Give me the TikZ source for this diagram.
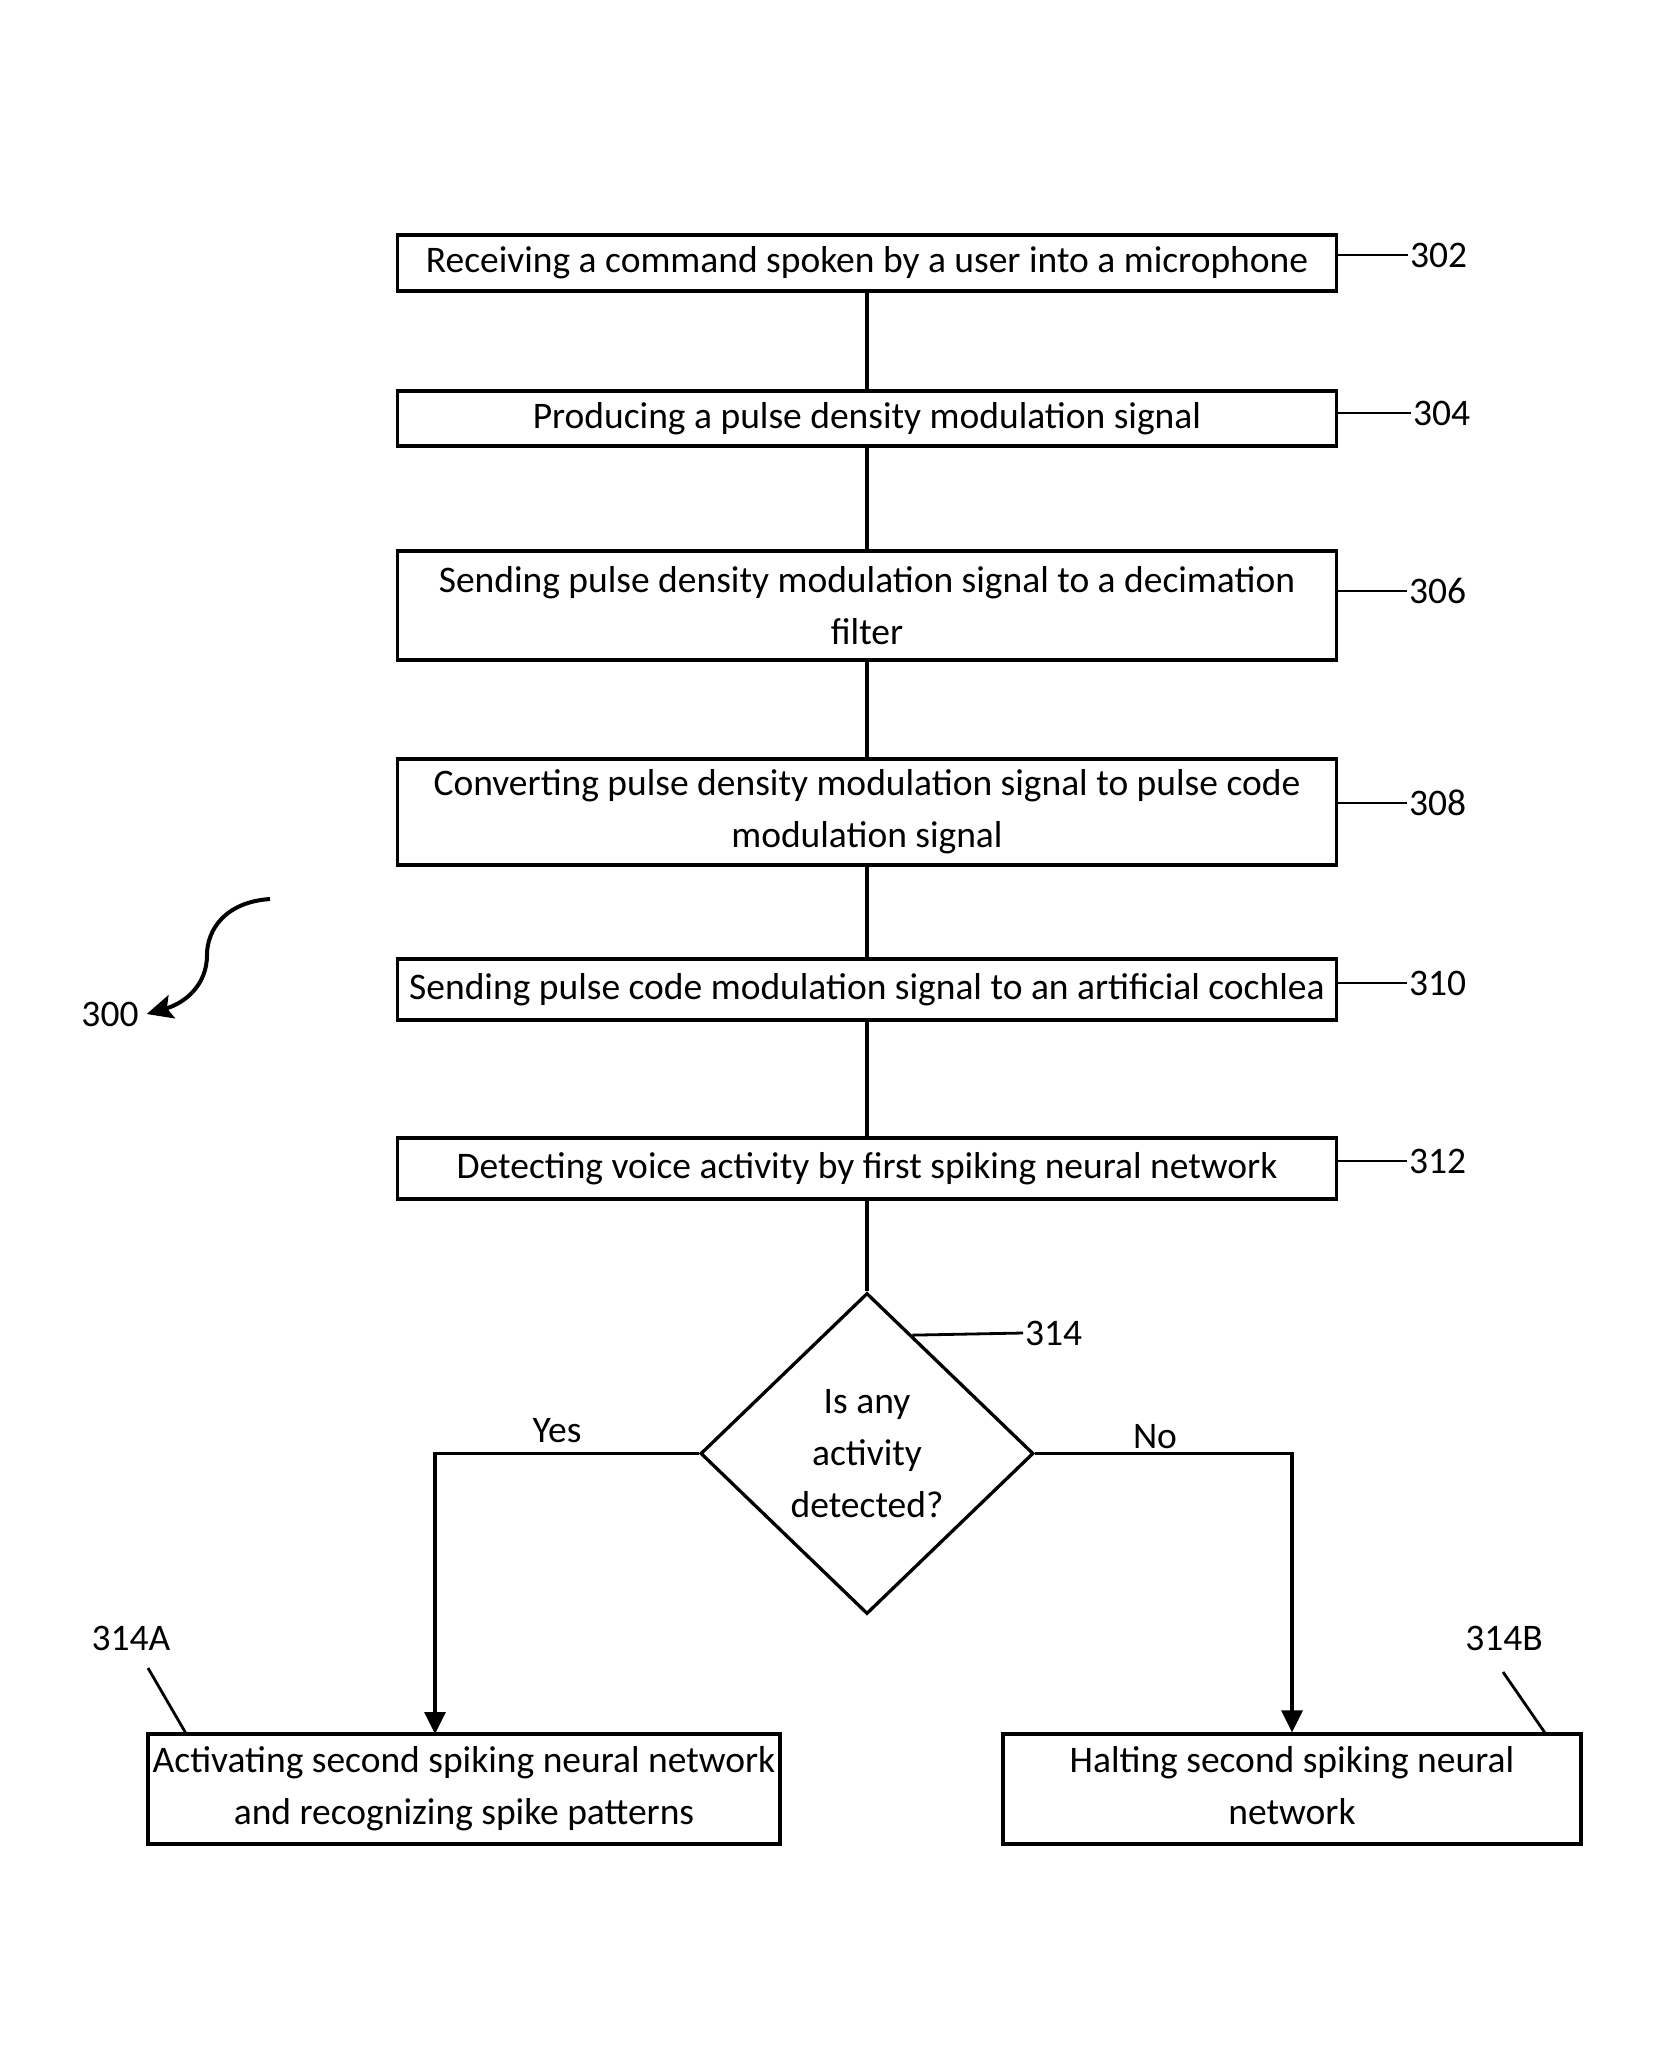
\documentclass[tikz,border=0pt]{standalone}
\usepackage{fontspec}
\setmainfont{Carlito}
\usetikzlibrary{arrows.meta,shapes.geometric,calc}
\newcommand{\flowfont}{\fontsize{37.5}{52}\selectfont}
\tikzset{
    stepbox/.style={draw,line width=3.3pt,minimum width=939pt,inner sep=0pt,align=center,font=\flowfont},
    outbox/.style={draw,line width=3.3pt,minimum height=110pt,inner sep=0pt,align=center,font=\flowfont},
    decision/.style={diamond,draw,line width=3.3pt,minimum width=333pt,minimum height=321pt,inner sep=0pt,align=center,font=\flowfont},
    flowline/.style={line width=3.1pt},
    flowarrow/.style={line width=3.1pt,-{Triangle[length=22pt,width=21pt]}},
    leader/.style={line width=2.8pt},
    reflabel/.style={inner sep=2pt,font=\flowfont},
    refarrow/.style={line width=4pt,-{Stealth[length=26pt,width=24pt,inset=5pt]}}
}

\begin{document}
\begin{tikzpicture}[x=1pt,y=-1pt]
    \useasboundingbox (0,0) rectangle (1679,2048);
    % Steps
    \node[stepbox,minimum height=56pt] (s302) at (867,263) {Receiving a command spoken by a user into a microphone};
    \node[stepbox,minimum height=55pt] (s304) at (867,418.5) {Producing a pulse density modulation signal};
    \node[stepbox,minimum height=109pt] (s306) at (867,605.5) {Sending pulse density modulation signal to a decimation\\filter};
    \node[stepbox,minimum height=106pt] (s308) at (867,812) {Converting pulse density modulation signal to pulse code\\modulation signal};
    \node[stepbox,minimum height=61pt] (s310) at (867,989.5) {Sending pulse code modulation signal to an artificial cochlea};
    \node[stepbox,minimum height=61pt] (s312) at (867,1168.5) {Detecting voice activity by first spiking neural network};
    % Decision
    \node[decision] (dec) at (867,1453.5) {Is any\\activity\\detected?};
    % Outcomes
    \node[outbox,minimum width=632pt] (act) at (464,1789) {Activating second spiking neural network\\and recognizing spike patterns};
    \node[outbox,minimum width=578pt] (halt) at (1292,1789) {Halting second spiking neural\\network\vphantom{g}};
    % Flow
    \draw[flowline] (s302) -- (s304);
    \draw[flowline] (s304) -- (s306);
    \draw[flowline] (s306) -- (s308);
    \draw[flowline] (s308) -- (s310);
    \draw[flowline] (s310) -- (s312);
    \draw[flowline] (s312) -- (dec);
    \coordinate (yesend) at (435,1734);
    \draw[flowarrow] (dec.west) -| (yesend);
    \draw[flowarrow] (dec.east) -| (halt.north);
    \node[reflabel] (yes) at (557,1431) {Yes};
    \node[reflabel] (no) at (1155,1437) {No};
    % Reference numerals
    \node[reflabel,anchor=west] (l302) at (1408,255) {302};
    \draw[leader] (s302.east |- l302.west) -- (l302.west);
    \node[reflabel,anchor=west] (l304) at (1411,413) {304};
    \draw[leader] (s304.east |- l304.west) -- (l304.west);
    \node[reflabel,anchor=west] (l306) at (1407,591) {306};
    \draw[leader] (s306.east |- l306.west) -- (l306.west);
    \node[reflabel,anchor=west] (l308) at (1407,803) {308};
    \draw[leader] (s308.east |- l308.west) -- (l308.west);
    \node[reflabel,anchor=west] (l310) at (1407,983) {310};
    \draw[leader] (s310.east |- l310.west) -- (l310.west);
    \node[reflabel,anchor=west] (l312) at (1407,1161) {312};
    \draw[leader] (s312.east |- l312.west) -- (l312.west);
    \coordinate (e314) at ($(dec.north)!0.27!(dec.east)$);
    \node[reflabel,anchor=west] (l314) at (1023,1333) {314};
    \draw[leader] (e314) -- (l314.west);
    \node[reflabel] (l314a) at (131,1638) {314A};
    \coordinate (t314a) at (148,1668);
    \draw[leader] (t314a) -- ($(act.north west)+(39,0)$);
    \node[reflabel] (l314b) at (1504,1638) {314B};
    \coordinate (t314b) at (1503,1672);
    \draw[leader] (t314b) -- ($(halt.north east)+(-38,0)$);
    % Figure numeral
    \node[reflabel,inner xsep=8pt] (l300) at (110,1014) {300};
    \coordinate (c300) at (270,899);
    \draw[refarrow] (c300) .. controls (225,902) and (207,930) .. (207,955)
        .. controls (207,985) and (185,1003) .. (l300.east);
\end{tikzpicture}
\end{document}
